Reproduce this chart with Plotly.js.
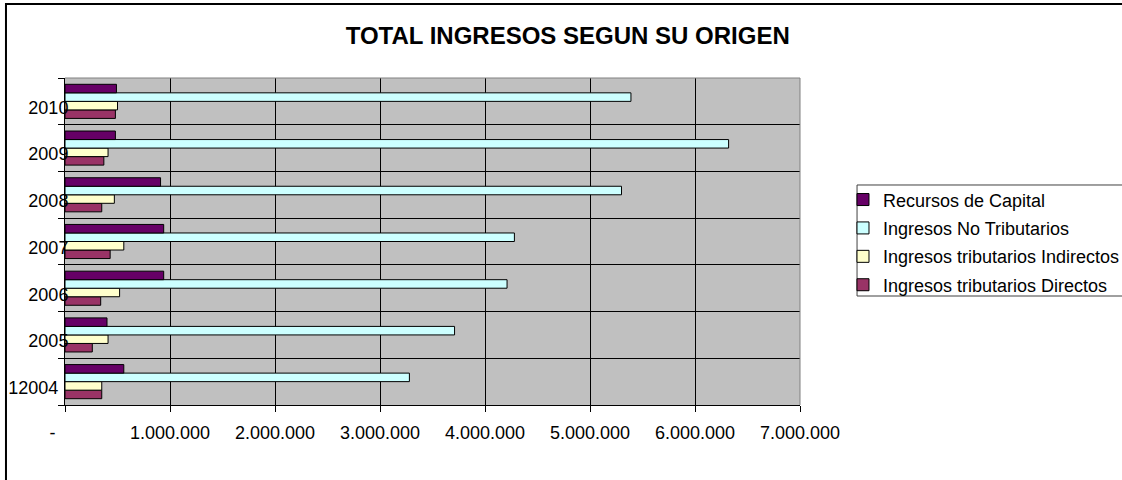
<!DOCTYPE html>
<html>
<head>
<meta charset="utf-8">
<script src="https://cdn.plot.ly/plotly-3.0.1.min.js"></script>
<style>
  body { margin: 0; background: #fff; }
  #chart { width: 1122px; height: 480px; }
</style>
</head>
<body>
<div id="chart"></div>
<script>
// years (bottom to top) and the labels shown for them
const years = ["2004", "2005", "2006", "2007", "2008", "2009", "2010"]
const yearLabels = ["12004\u00a0\u00a0", "2005", "2006", "2007", "2008", "2009", "2010"]

// values per year, same order as years
const recursosCapital = [560000, 400000, 940000, 940000, 910000, 480000, 490000]
const noTributarios = [3280000, 3710000, 4210000, 4280000, 5300000, 6320000, 5390000]
const tribIndirectos = [350000, 410000, 520000, 560000, 470000, 410000, 500000]
const tribDirectos = [350000, 260000, 340000, 430000, 350000, 370000, 480000]

// x axis ticks
const xTickVals = [0, 1000000, 2000000, 3000000, 4000000, 5000000, 6000000, 7000000]
const xTickText = ["-\u00a0\u00a0\u00a0\u00a0\u00a0", "1.000.000", "2.000.000", "3.000.000",
    "4.000.000", "5.000.000", "6.000.000", "7.000.000"]

const font = "Liberation Sans, Arial, sans-serif"

function barTrace (name, values, color, rank) {
    return {
        type: "bar",
        orientation: "h",
        name: name,
        legendgroup: name,
        legendrank: rank,
        y: years,
        x: values,
        marker: {color: color, line: {color: "#000", width: 1}},
        hoverinfo: "x+name"
    }
}

// first trace sits lowest in each group
let data = [
    barTrace("Ingresos tributarios Directos", tribDirectos, "#993366", 4),
    barTrace("Ingresos tributarios Indirectos", tribIndirectos, "#FFFFCC", 3),
    barTrace("Ingresos No Tributarios", noTributarios, "#CCFFFF", 2),
    barTrace("Recursos de Capital", recursosCapital, "#660066", 1)
]

let layout = {
    width: 1122,
    height: 480,
    margin: {l: 65, r: 322, t: 78, b: 75, autoexpand: false},
    paper_bgcolor: "#fff",
    plot_bgcolor: "#C0C0C0",
    font: {family: font, size: 18, color: "#000"},
    barmode: "group",
    bargap: 0.27,
    bargroupgap: 0,
    showlegend: true,
    title: {
        text: "<b>TOTAL INGRESOS SEGUN SU ORIGEN</b>",
        font: {family: font, size: 24, color: "#000"},
        xref: "container", x: 0.506, xanchor: "center",
        yref: "container", y: 0.925, yanchor: "middle"
    },
    xaxis: {
        range: [0, 7000000],
        tickmode: "array",
        tickvals: xTickVals,
        ticktext: xTickText,
        showgrid: true,
        gridcolor: "#000",
        gridwidth: 1,
        zeroline: false,
        showline: true,
        linecolor: "#000",
        linewidth: 1,
        ticks: "outside",
        ticklen: 6,
        tickcolor: "#000",
        ticklabelstandoff: 5,
        tickfont: {family: font, size: 18, color: "#000"},
        fixedrange: true
    },
    yaxis: {
        type: "category",
        tickmode: "array",
        tickvals: years,
        ticktext: yearLabels,
        tickson: "boundaries",
        showgrid: true,
        gridcolor: "#000",
        gridwidth: 1,
        showline: true,
        linecolor: "#000",
        linewidth: 1,
        ticks: "outside",
        ticklen: 6,
        tickcolor: "#000",
        ticklabelstandoff: -8,
        ticklabelshift: 6,
        tickfont: {family: font, size: 18, color: "#000"},
        fixedrange: true
    },
    legend: {
        x: 1.0585,
        y: 0.684,
        xanchor: "left",
        yanchor: "top",
        traceorder: "grouped",
        tracegroupgap: 2,
        bgcolor: "rgba(0,0,0,0)",
        borderwidth: 0,
        font: {family: font, size: 18, color: "#000"}
    },
    shapes: [
        // gray top and right edge of the plot area
        {type: "path", xref: "paper", yref: "paper", path: "M0,1 L1,1 L1,0",
         line: {color: "#808080", width: 1}, layer: "above"},
        // legend box
        {type: "rect", xref: "paper", yref: "paper", x0: 1.0776, x1: 2, y0: 0.3333, y1: 0.6728,
         line: {color: "#404040", width: 1}, fillcolor: "#fff", layer: "below"},
        // chart area border, top and left
        {type: "path", xref: "paper", yref: "paper", path: "M-0.0803,-1 L-0.0803,1.2263 L3,1.2263",
         line: {color: "#000", width: 2}, layer: "above"}
    ]
}

Plotly.newPlot("chart", data, layout, {displayModeBar: false, staticPlot: true})
</script>
</body>
</html>
